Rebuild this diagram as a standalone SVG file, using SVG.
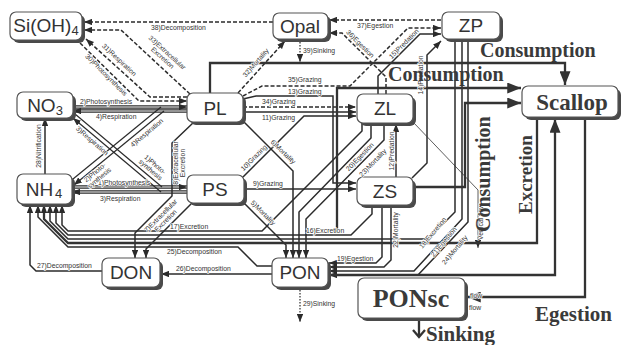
<svg xmlns="http://www.w3.org/2000/svg" width="621" height="345" viewBox="0 0 621 345">
  <style>
    .bx { fill: #fff; stroke: #555; stroke-width: 1.2; }
    .sh { fill: #4a4a4a; }
    .nt { font-family: "Liberation Sans", Arial, sans-serif; font-size: 19px; fill: #333; text-anchor: middle; }
    .sub { font-size: 13px; }
    .bt { font-family: "Liberation Serif", "Times New Roman", serif; font-weight: bold; fill: #3a3a3a; }
    .ln { fill: none; stroke: #2b2b2b; stroke-width: 1.5; }
    .tn { fill: none; stroke: #2b2b2b; stroke-width: 1.2; }
    .hv { fill: none; stroke: #333; stroke-width: 2.3; }
    .ds { fill: none; stroke: #2b2b2b; stroke-width: 1.5; stroke-dasharray: 4 2; }
    .dt { fill: none; stroke: #2b2b2b; stroke-width: 1.2; stroke-dasharray: 1.5 1.5; }
    .vf { fill: none; stroke: #333; stroke-width: 0.8; }
    .do { fill: none; stroke: #2b2b2b; stroke-width: 3.4; }
    .di { fill: none; stroke: #fff; stroke-width: 1.2; }
    .lb { font-family: "Liberation Sans", Arial, sans-serif; font-size: 6.8px; fill: #333; stroke: #fff; stroke-width: 1.4; stroke-linejoin: round; paint-order: stroke; }
    .lm { text-anchor: middle; }
  </style>
  <defs>
    <marker id="a" viewBox="0 0 10 8" refX="10" refY="4" markerWidth="8" markerHeight="6.4" markerUnits="userSpaceOnUse" orient="auto">
      <path d="M0,0L10,4L0,8z" fill="#2b2b2b"/>
    </marker>
    <marker id="ab" viewBox="0 0 10 8" refX="10" refY="4" markerWidth="14" markerHeight="11" markerUnits="userSpaceOnUse" orient="auto">
      <path d="M0,0L10,4L0,8z" fill="#333"/>
    </marker>
  </defs>

  <rect width="621" height="345" fill="#fff"/>

  <g id="connectors">
    <!-- silica pathways (dashed) -->
    <path class="ds" d="M273,22H84" marker-end="url(#a)"/>
    <path class="ds" d="M190,94L121,30H84" marker-end="url(#a)"/>
    <path class="ds" d="M187,97H150L86,39" marker-end="url(#a)"/>
    <path class="ds" d="M80,43L139,101H187" marker-end="url(#a)"/>
    <path class="ds" d="M238,93L285,41" marker-end="url(#a)"/>
    <path class="dt" d="M300,39V62" marker-end="url(#a)"/>
    <path class="ds" d="M243,96L262,86H350L408,28H441" marker-end="url(#a)"/>
    <path class="ds" d="M243,107H356" marker-end="url(#a)"/>
    <path class="ds" d="M386,94V77L342,33H329" marker-end="url(#a)"/>
    <path class="ds" d="M441,20H329" marker-end="url(#a)"/>

    <!-- nutrient uptake / release -->
    <path class="do" d="M73,107H187"/><path class="di" d="M73,107H187" marker-end="url(#a)"/>
    <path class="do" d="M187,111H73"/><path class="di" d="M187,111H73" marker-end="url(#a)"/>
    <path class="do" d="M72,187H187"/><path class="di" d="M72,187H187" marker-end="url(#a)"/>
    <path class="do" d="M187,192H72"/><path class="di" d="M187,192H72" marker-end="url(#a)"/>
    <path class="tn" d="M75,114L162,187"/>
    <path class="tn" d="M161,192L73,118" marker-end="url(#a)"/>
    <path class="tn" d="M73,179L161,107"/>
    <path class="tn" d="M164,111L74,185" marker-end="url(#a)"/>
    <path class="ln" d="M45,174V118" marker-end="url(#a)"/>

    <!-- phytoplankton excretion, grazing and mortality -->
    <path class="ln" d="M194,122L172,143V196L135,233V258" marker-end="url(#a)"/>
    <path class="ln" d="M192,203L146,249V258" marker-end="url(#a)"/>
    <path class="ln" d="M243,121L293,171V258" marker-end="url(#a)"/>
    <path class="ln" d="M243,202L286,245V258" marker-end="url(#a)"/>
    <path class="ln" d="M243,177L304,116H356" marker-end="url(#a)"/>
    <path class="ln" d="M243,112H356" marker-end="url(#a)"/>
    <path class="ln" d="M243,99L256,96H333V183H356" marker-end="url(#a)"/>
    <path class="ln" d="M244,189H356" marker-end="url(#a)"/>

    <!-- zooplankton predation -->
    <path class="ln" d="M396,177V124" marker-end="url(#a)"/>
    <path class="ln" d="M412,178L427,163V55L441,41" marker-end="url(#a)"/>
    <path class="ln" d="M378,94V76L420,34H441" marker-end="url(#a)"/>
    <path class="vf" d="M413,122L478,190V248" marker-end="url(#a)"/>

    <!-- zooplankton excretion, egestion and mortality -->
    <path class="ln" d="M362,123V131L262,231H68L62,225V205" marker-end="url(#a)"/>
    <path class="ln" d="M371,123V138L299,212V258" marker-end="url(#a)"/>
    <path class="ln" d="M384,123V140L306,219V258" marker-end="url(#a)"/>
    <path class="ln" d="M372,205V214L351,235H68L56,223V205" marker-end="url(#a)"/>
    <path class="ln" d="M382,205V257L376,263H329" marker-end="url(#a)"/>
    <path class="ln" d="M391,205V260L384,267H329" marker-end="url(#a)"/>
    <path class="ln" d="M455,39V212L428,239H68L50,221V205" marker-end="url(#a)"/>
    <path class="ln" d="M462,39V219L414,271H329" marker-end="url(#a)"/>
    <path class="ln" d="M468,39V222L418,275H329" marker-end="url(#a)"/>

    <!-- detritus -->
    <path class="ln" d="M272,266H257L238,247H68L38,217V205" marker-end="url(#a)"/>
    <path class="ln" d="M272,274H161" marker-end="url(#a)"/>
    <path class="ln" d="M102,271H36L30,265V205" marker-end="url(#a)"/>
    <path class="dt" d="M300,287V322" marker-end="url(#a)"/>

    <!-- scallop fluxes -->
    <path class="hv" d="M210,93V63H565V85" marker-end="url(#ab)"/>
    <path class="hv" d="M337,231V88H521" marker-end="url(#ab)"/>
    <path class="hv" d="M413,187H465V103H521" marker-end="url(#ab)"/>
    <path class="hv" d="M329,275H555V119" marker-end="url(#ab)"/>
    <path class="hv" d="M537,117V243H68L44,219V205" marker-end="url(#a)"/>
    <path class="hv" d="M585,117V297H467" marker-end="url(#ab)"/>
    <path class="hv" d="M419,318V337M413,330L419,337L425,330"/>
  </g>

  <g id="node-SiOH4">
    <rect class="sh" x="13" y="15" width="72" height="28" rx="6"/>
    <rect class="bx" x="10" y="12" width="72" height="28" rx="6"/>
    <text class="nt" x="46" y="32" font-size="18">Si(OH)<tspan class="sub" dy="3">4</tspan></text>
  </g>
  <g id="node-Opal">
    <rect class="sh" x="276" y="16" width="55" height="26" rx="6"/>
    <rect class="bx" x="273" y="13" width="55" height="26" rx="6"/>
    <text class="nt" x="300" y="33">Opal</text>
  </g>
  <g id="node-ZP">
    <rect class="sh" x="445" y="15" width="58" height="27" rx="6"/>
    <rect class="bx" x="442" y="12" width="58" height="27" rx="6"/>
    <text class="nt" x="471" y="32">ZP</text>
  </g>
  <g id="node-NO3">
    <rect class="sh" x="20" y="95" width="56" height="26" rx="6"/>
    <rect class="bx" x="17" y="92" width="56" height="26" rx="6"/>
    <text class="nt" x="45" y="112">NO<tspan class="sub" dy="3">3</tspan></text>
  </g>
  <g id="node-NH4">
    <rect class="sh" x="20" y="177" width="55" height="30" rx="6"/>
    <rect class="bx" x="17" y="174" width="55" height="30" rx="6"/>
    <text class="nt" x="44" y="196">NH<tspan class="sub" dy="2" dx="2">4</tspan></text>
  </g>
  <g id="node-PL">
    <rect class="sh" x="190" y="96" width="56" height="29" rx="6"/>
    <rect class="bx" x="187" y="93" width="56" height="29" rx="6"/>
    <text class="nt" x="215" y="115">PL</text>
  </g>
  <g id="node-PS">
    <rect class="sh" x="190" y="178" width="57" height="28" rx="6"/>
    <rect class="bx" x="187" y="175" width="57" height="28" rx="6"/>
    <text class="nt" x="215" y="196">PS</text>
  </g>
  <g id="node-ZL">
    <rect class="sh" x="360" y="97" width="56" height="29" rx="6"/>
    <rect class="bx" x="357" y="94" width="56" height="29" rx="6"/>
    <text class="nt" x="385" y="115">ZL</text>
  </g>
  <g id="node-ZS">
    <rect class="sh" x="360" y="180" width="56" height="28" rx="6"/>
    <rect class="bx" x="357" y="177" width="56" height="28" rx="6"/>
    <text class="nt" x="385" y="198">ZS</text>
  </g>
  <g id="node-DON">
    <rect class="sh" x="105" y="261" width="58" height="29" rx="6"/>
    <rect class="bx" x="102" y="258" width="58" height="29" rx="6"/>
    <text class="nt" x="131" y="279">DON</text>
  </g>
  <g id="node-PON">
    <rect class="sh" x="275" y="261" width="56" height="29" rx="6"/>
    <rect class="bx" x="272" y="258" width="56" height="29" rx="6"/>
    <text class="nt" x="300" y="279">PON</text>
  </g>
  <g id="node-Scallop">
    <rect class="sh" x="525" y="89" width="96" height="31" rx="6"/>
    <rect class="bx" x="522" y="86" width="96" height="31" rx="6"/>
    <text class="bt" x="572" y="110" font-size="23" text-anchor="middle">Scallop</text>
  </g>
  <g id="node-PONsc">
    <rect class="sh" x="361" y="281" width="107" height="40" rx="6"/>
    <rect class="bx" x="358" y="278" width="107" height="40" rx="6"/>
    <text class="bt" x="411" y="307" font-size="26" text-anchor="middle">PONsc</text>
  </g>

  <g id="labels">
    <text class="lb" x="151" y="30">38)Decomposition</text>
    <text class="lb lm" transform="translate(165,55) rotate(42)"><tspan x="0" y="-1">33)Extracellular</tspan><tspan x="0" y="6">Excretion</tspan></text>
    <text class="lb lm" transform="translate(119,60) rotate(43)" y="2">31)Respiration</text>
    <text class="lb lm" transform="translate(106,75) rotate(45)" y="2">30)Photosynthesis</text>
    <text class="lb lm" transform="translate(256,63) rotate(-49)" y="2">32)Mortality</text>
    <text class="lb" x="303" y="53">39)Sinking</text>
    <text class="lb" x="288" y="82">35)Grazing</text>
    <text class="lb" x="288" y="94">13)Grazing</text>
    <text class="lb" x="262" y="104">34)Grazing</text>
    <text class="lb" x="262" y="120">11)Grazing</text>
    <text class="lb" x="357" y="28">37)Egestion</text>
    <text class="lb lm" transform="translate(360,44) rotate(45)" y="2">36)Egestion</text>
    <text class="lb lm" transform="translate(404,44) rotate(-45)" y="2">15)Predation</text>
    <text class="lb lm" transform="translate(423,75) rotate(-90)">14)Predation</text>
    <text class="lb" x="80" y="104">2)Photosynthesis</text>
    <text class="lb" x="96" y="119">4)Respiration</text>
    <text class="lb" x="98" y="185">1)Photosynthesis</text>
    <text class="lb" x="100" y="201">3)Respiration</text>
    <text class="lb lm" transform="translate(92,141) rotate(41)" y="2">3)Respiration</text>
    <text class="lb lm" transform="translate(153,167) rotate(41)"><tspan x="0" y="-1">1)Photo-</tspan><tspan x="0" y="6">synthesis</tspan></text>
    <text class="lb lm" transform="translate(97,175) rotate(-40)"><tspan x="0" y="-1">2)Photo-</tspan><tspan x="0" y="6">synthesis</tspan></text>
    <text class="lb lm" transform="translate(147,133) rotate(-40)" y="2">4)Respiration</text>
    <text class="lb lm" transform="translate(41,146) rotate(-90)">28)Nitrification</text>
    <text class="lb lm" transform="translate(178,163) rotate(-90)"><tspan x="0" y="0">8)Extracellular</tspan><tspan x="0" y="7">Excretion</tspan></text>
    <text class="lb lm" transform="translate(163,218) rotate(-45)"><tspan x="0" y="-1">7)Extracellular</tspan><tspan x="0" y="6">Excretion</tspan></text>
    <text class="lb lm" transform="translate(254,158) rotate(-45)" y="2">10)Grazing</text>
    <text class="lb lm" transform="translate(283,152) rotate(44)" y="2">6)Mortality</text>
    <text class="lb lm" transform="translate(263,213) rotate(45)" y="2">5)Mortality</text>
    <text class="lb" x="253" y="186">9)Grazing</text>
    <text class="lb lm" transform="translate(394,151) rotate(-90)">12)Predation</text>
    <text class="lb lm" transform="translate(360,157) rotate(-46)" y="2">20)Egestion</text>
    <text class="lb lm" transform="translate(373,163) rotate(-46)" y="2">23)Mortality</text>
    <text class="lb" x="170" y="229">17)Excretion</text>
    <text class="lb" x="306" y="233">16)Excretion</text>
    <text class="lb" x="167" y="254">25)Decomposition</text>
    <text class="lb" x="176" y="271">26)Decomposition</text>
    <text class="lb" x="37" y="268">27)Decomposition</text>
    <text class="lb" x="337" y="261">19)Egestion</text>
    <text class="lb lm" transform="translate(398,230) rotate(-90)">22)Mortality</text>
    <text class="lb lm" transform="translate(433,233) rotate(-50)" y="2">18)Excretion</text>
    <text class="lb lm" transform="translate(444,242) rotate(-50)" y="2">21)Egestion</text>
    <text class="lb lm" transform="translate(455,250) rotate(-50)" y="2">24)Mortality</text>
    <text class="lb" x="303" y="306">29)Sinking</text>
    <text class="lb" transform="translate(483,240) rotate(-90)">Vertical flow</text>
    <text class="lb" x="470" y="298" fill="#555">flow</text>
    <text class="lb" x="469" y="310" fill="#555" font-size="7.5">flow</text>

    <text class="bt" x="480" y="57" font-size="20">Consumption</text>
    <text class="bt" x="388" y="81" font-size="20">Consumption</text>
    <text class="bt" transform="translate(490,232) rotate(-90)" font-size="20">Consumption</text>
    <text class="bt" transform="translate(532,214) rotate(-90)" font-size="19">Excretion</text>
    <text class="bt" x="535" y="321" font-size="21">Egestion</text>
    <text class="bt" x="426" y="341" font-size="21">Sinking</text>
  </g>
</svg>
